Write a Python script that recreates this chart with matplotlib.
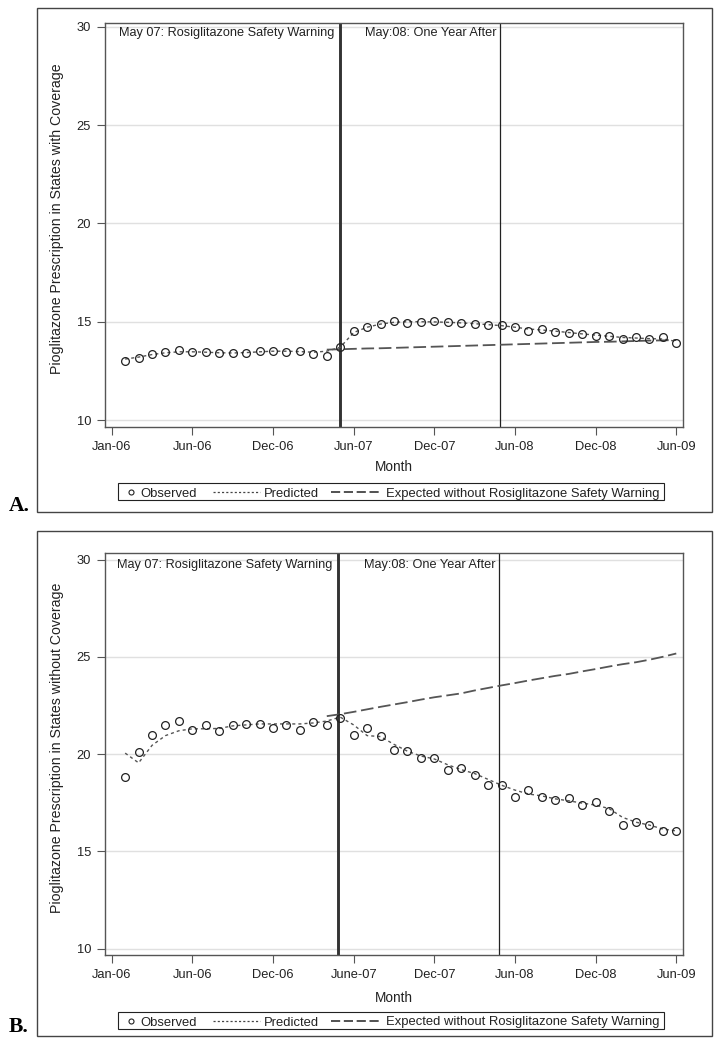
import matplotlib
matplotlib.use("Agg")
import matplotlib.pyplot as plt
from matplotlib.lines import Line2D
from matplotlib.patches import Rectangle

plt.rcParams['font.family'] = ['Liberation Sans', 'DejaVu Sans']

# month index: 0 = Jan-06 ... 41 = Jun-09
months = list(range(42))
tick_pos = [-1, 5, 11, 17, 23, 29, 35, 41]
tick_labels_a = ["Jan-06", "Jun-06", "Dec-06", "Jun-07", "Dec-07", "Jun-08", "Dec-08", "Jun-09"]
tick_labels_b = ["Jan-06", "Jun-06", "Dec-06", "June-07", "Dec-07", "Jun-08", "Dec-08", "Jun-09"]
yticks = [10, 15, 20, 25, 30]

# Panel A: states with coverage
obs_a = [13.00, 13.17, 13.36, 13.47, 13.56, 13.47, 13.47, 13.39, 13.39, 13.42,
         13.53, 13.53, 13.47, 13.53, 13.34, 13.27, 13.73, 14.54, 14.75, 14.90,
         15.04, 14.95, 15.00, 15.05, 15.00, 14.95, 14.88, 14.83, 14.82, 14.71,
         14.54, 14.63, 14.49, 14.44, 14.36, 14.29, 14.26, 14.12, 14.24, 14.12,
         14.21, 13.93]
pred_a = [13.10, 13.20, 13.33, 13.42, 13.47, 13.47, 13.45, 13.42, 13.41, 13.43,
          13.47, 13.50, 13.50, 13.48, 13.45, 13.50, 13.70, 14.45, 14.72, 14.88,
          14.97, 15.00, 15.00, 14.99, 14.97, 14.94, 14.90, 14.85, 14.80, 14.72,
          14.63, 14.58, 14.52, 14.45, 14.38, 14.32, 14.26, 14.20, 14.17, 14.14,
          14.12, 14.00]
exp_months = list(range(15, 42))
exp_a = [13.58, 13.60, 13.62, 13.64, 13.65, 13.67, 13.69, 13.71, 13.73, 13.75,
         13.77, 13.79, 13.81, 13.83, 13.85, 13.87, 13.89, 13.91, 13.93, 13.95,
         13.97, 13.98, 14.00, 14.02, 14.04, 14.05, 14.07]

# Panel B: states without coverage
obs_b = [18.83, 20.12, 20.98, 21.50, 21.69, 21.25, 21.47, 21.20, 21.47, 21.56,
         21.56, 21.35, 21.50, 21.25, 21.64, 21.50, 21.86, 20.98, 21.34, 20.94,
         20.22, 20.14, 19.81, 19.81, 19.19, 19.28, 18.92, 18.42, 18.42, 17.77,
         18.15, 17.80, 17.64, 17.74, 17.40, 17.53, 17.09, 16.37, 16.52, 16.37,
         16.03, 16.03]
pred_b = [20.05, 19.55, 20.45, 20.95, 21.20, 21.30, 21.30, 21.32, 21.45, 21.50,
          21.55, 21.55, 21.55, 21.55, 21.60, 21.70, 21.90, 21.50, 20.95, 20.90,
          20.50, 20.15, 19.90, 19.75, 19.45, 19.20, 19.00, 18.70, 18.40, 18.15,
          17.95, 17.85, 17.70, 17.60, 17.48, 17.38, 17.20, 16.75, 16.50, 16.35,
          16.15, 16.05]
exp_b = [21.95, 22.05, 22.17, 22.30, 22.43, 22.55, 22.67, 22.80, 22.92, 23.02,
         23.12, 23.27, 23.40, 23.53, 23.65, 23.78, 23.90, 24.02, 24.12, 24.25,
         24.37, 24.50, 24.62, 24.72, 24.85, 25.00, 25.17]

warn_label = "May 07: Rosiglitazone Safety Warning"
after_label = "May:08: One Year After"
legend_labels = ["Observed", "Predicted", "Expected without Rosiglitazone Safety Warning"]

W, H = 716, 1050
fig = plt.figure(figsize=(W / 100, H / 100), dpi=100)

FS = 9.2
TXT = "#222222"
spine_c = "#555555"
PRED_STYLE = (0, (2.2, 2.2))
EXP_STYLE = (0, (7, 2.6))


def fx(px):
    return px / W


def fy(py):
    return 1 - py / H


def panel(top_px, bottom_px, ylim, obs, pred, exp, ylabel, ticklabels,
          frame, letter, letter_y, month_y, legend_y, vthick, vthin):
    ax = fig.add_axes([fx(105), fy(bottom_px), fx(683) - fx(105), fy(top_px) - fy(bottom_px)])
    ax.set_xlim(-1.5, 41.5)
    ax.set_ylim(*ylim)
    ax.set_yticks(yticks)
    ax.set_xticks(tick_pos)
    ax.set_xticklabels(ticklabels)
    ax.tick_params(direction='out', length=6, width=0.8, color=spine_c,
                   labelsize=9.3, labelcolor=TXT, pad=4)
    for s in ax.spines.values():
        s.set_color(spine_c)
        s.set_linewidth(1.0)
    ax.grid(axis='y', color="#e0e0e0", linewidth=1.0)
    ax.set_axisbelow(True)
    ax.axvline(vthick, color="#333333", linewidth=2.1, zorder=2)
    ax.axvline(vthin, color="#222222", linewidth=0.9, zorder=2)
    ax.plot(months, pred, linestyle=PRED_STYLE, color="#555555", linewidth=1.0, zorder=3)
    ax.plot(exp_months, exp, linestyle=EXP_STYLE, color="#555555", linewidth=1.3, zorder=3)
    ax.plot(months, obs, linestyle='none', marker='o', markersize=5.6,
            markerfacecolor='none', markeredgecolor='#222222', markeredgewidth=0.9, zorder=4)
    ax.text(vthick - 0.45, 29.7, warn_label, ha='right', va='center', fontsize=FS, color=TXT)
    ax.text(vthin - 0.25, 29.7, after_label, ha='right', va='center', fontsize=FS, color=TXT)
    # y label
    fig.text(fx(57), fy((top_px + bottom_px) / 2 - 6), ylabel, rotation=90,
             ha='center', va='center', fontsize=10.2, color=TXT)
    fig.text(fx(394), fy(month_y), "Month", ha='center', va='center', fontsize=9.8, color=TXT)

    # legend drawn by hand
    ly = fy(legend_y)
    fig.patches.append(Rectangle((fx(118), fy(legend_y + 8.5)), fx(664) - fx(118), 17 / H,
                                 transform=fig.transFigure, fill=False,
                                 edgecolor="#222222", linewidth=0.8))
    fig.lines.append(Line2D([fx(131)], [ly], transform=fig.transFigure, linestyle='none',
                            marker='o', markersize=3.6, markerfacecolor='none',
                            markeredgecolor='#222222', markeredgewidth=0.8))
    ty = fy(legend_y + 0.5)
    fig.text(fx(140), ty, legend_labels[0], ha='left', va='center_baseline', fontsize=9.4, color=TXT)
    fig.lines.append(Line2D([fx(213), fx(260)], [ly, ly], transform=fig.transFigure,
                            linestyle=(0, (1.7, 1.7)), color="#444444", linewidth=0.9))
    fig.text(fx(264), ty, legend_labels[1], ha='left', va='center_baseline', fontsize=9.4, color=TXT)
    fig.lines.append(Line2D([fx(331), fx(381)], [ly, ly], transform=fig.transFigure,
                            linestyle=(0, (5.5, 2.2)), color="#333333", linewidth=1.2))
    fig.text(fx(386), ty, legend_labels[2], ha='left', va='center_baseline', fontsize=9.4, color=TXT)

    x0, y0, x1, y1 = frame
    fig.patches.append(Rectangle((fx(x0), fy(y1)), fx(x1) - fx(x0), fy(y0) - fy(y1),
                                 transform=fig.transFigure, fill=False,
                                 edgecolor="#444444", linewidth=1.0))
    fig.text(fx(9), fy(letter_y), letter, ha='left', va='center', fontsize=15.5,
             fontweight='bold', family='Liberation Serif', color='black')
    return ax


axA = panel(22.7, 426.7, (9.66, 30.21), obs_a, pred_a, exp_a,
            "Pioglitazone Prescription in States with Coverage", tick_labels_a,
            (37, 8, 712, 512), "A.", 506, 467, 491.5, 15.98, 27.9)
axB = panel(552.5, 955.3, (9.66, 30.36), obs_b, pred_b, exp_b,
            "Pioglitazone Prescription in States without Coverage", tick_labels_b,
            (37, 531, 712, 1036), "B.", 1027, 998, 1020.5, 15.86, 27.83)

fig.savefig("out.png", dpi=100)
